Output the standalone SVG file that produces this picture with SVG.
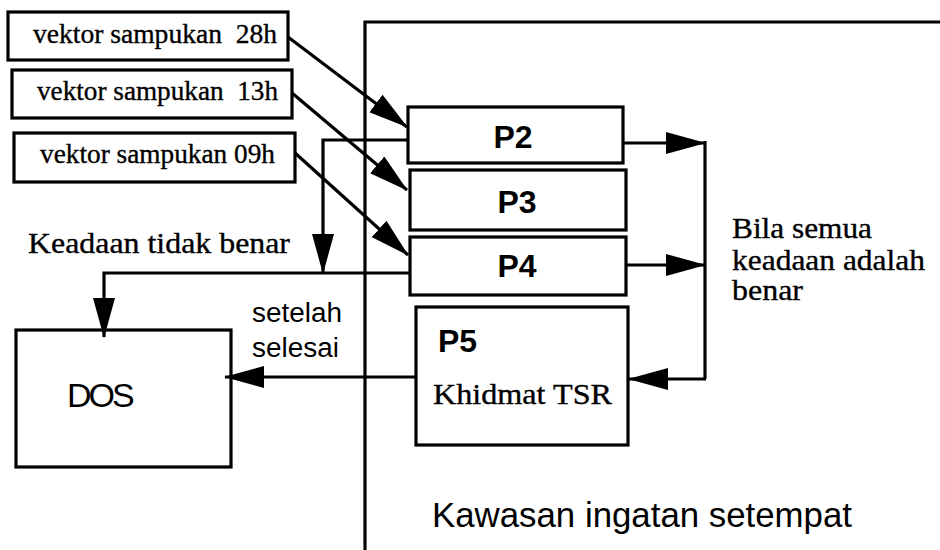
<svg xmlns="http://www.w3.org/2000/svg" width="940" height="550" viewBox="0 0 940 550">
<defs>
<style>
.box{fill:none;stroke:#000;stroke-width:3.2}
.ln{fill:none;stroke:#000;stroke-width:3.2}
.ar{fill:none;stroke:#000;stroke-width:3.2;marker-end:url(#ah)}
.serif{font-family:"Liberation Serif","Times New Roman",serif;fill:#000;stroke:#000;stroke-width:0.35}
.sans{font-family:"Liberation Sans",Arial,sans-serif;fill:#000}
.pb{font-family:"Liberation Sans",Arial,sans-serif;font-weight:bold;font-size:32px;fill:#000}
</style>
<marker id="ah" markerUnits="userSpaceOnUse" markerWidth="40" markerHeight="22" refX="39" refY="11" orient="auto">
<path d="M0,0 L40,11 L0,22 Z" fill="#000"/>
</marker>
</defs>
<rect width="940" height="550" fill="#fff"/>
<g id="region">
<path class="ln" d="M365,550 V22 H940"/>
<text class="sans" x="432" y="527" font-size="35" textLength="420" lengthAdjust="spacingAndGlyphs">Kawasan ingatan setempat</text>
</g>
<g id="v28">
<rect class="box" x="8" y="12" width="280" height="48"/>
<text class="serif" x="33" y="43" font-size="27" textLength="244" lengthAdjust="spacingAndGlyphs" xml:space="preserve">vektor sampukan  28h</text>
</g>
<g id="v13">
<rect class="box" x="12" y="70" width="280" height="48"/>
<text class="serif" x="37" y="100" font-size="27" textLength="241" lengthAdjust="spacingAndGlyphs" xml:space="preserve">vektor sampukan  13h</text>
</g>
<g id="v09">
<rect class="box" x="14" y="133" width="281" height="49"/>
<text class="serif" x="40" y="163" font-size="27" textLength="235" lengthAdjust="spacingAndGlyphs">vektor sampukan 09h</text>
</g>
<g id="P2">
<rect class="box" x="408" y="107" width="215" height="56"/>
<text class="pb" x="513" y="148" text-anchor="middle">P2</text>
</g>
<g id="P3">
<rect class="box" x="410" y="170" width="216" height="60"/>
<text class="pb" x="517" y="213" text-anchor="middle">P3</text>
</g>
<g id="P4">
<rect class="box" x="410" y="237" width="216" height="58"/>
<text class="pb" x="517" y="277" text-anchor="middle">P4</text>
</g>
<g id="P5">
<rect class="box" x="416" y="307" width="212" height="138"/>
<text class="pb" x="438" y="352">P5</text>
<text class="serif" x="433" y="404" font-size="29" textLength="179" lengthAdjust="spacingAndGlyphs">Khidmat TSR</text>
</g>
<g id="DOS">
<rect class="box" x="16" y="330" width="215" height="137"/>
<text class="sans" x="67" y="407" font-size="34" letter-spacing="-3">DOS</text>
</g>
<g id="connectors">
<path class="ar" d="M288,37 L407,127"/>
<path class="ar" d="M292,93 L407,190"/>
<path class="ar" d="M295,153 L408,255"/>
<path class="ar" d="M408,140 H323 V273"/>
<path class="ar" d="M410,273 H104 V337"/>
<path class="ar" d="M416,377 H225"/>
<path class="ar" d="M623,143 H705"/>
<path class="ar" d="M626,265 H705"/>
<path class="ln" d="M705,141 V379"/>
<path class="ar" d="M706,379 H629"/>
</g>
<g id="labels">
<text class="serif" x="28" y="253" font-size="29" textLength="262" lengthAdjust="spacingAndGlyphs">Keadaan tidak benar</text>
<text class="sans" x="252" y="322" font-size="27" textLength="90" lengthAdjust="spacingAndGlyphs">setelah</text>
<text class="sans" x="252" y="357" font-size="27" textLength="87" lengthAdjust="spacingAndGlyphs">selesai</text>
<text class="serif" x="732" y="238" font-size="29" textLength="140" lengthAdjust="spacingAndGlyphs">Bila semua</text>
<text class="serif" x="732" y="270" font-size="29" textLength="193" lengthAdjust="spacingAndGlyphs">keadaan adalah</text>
<text class="serif" x="732" y="300" font-size="29" textLength="71" lengthAdjust="spacingAndGlyphs">benar</text>
</g>
</svg>
